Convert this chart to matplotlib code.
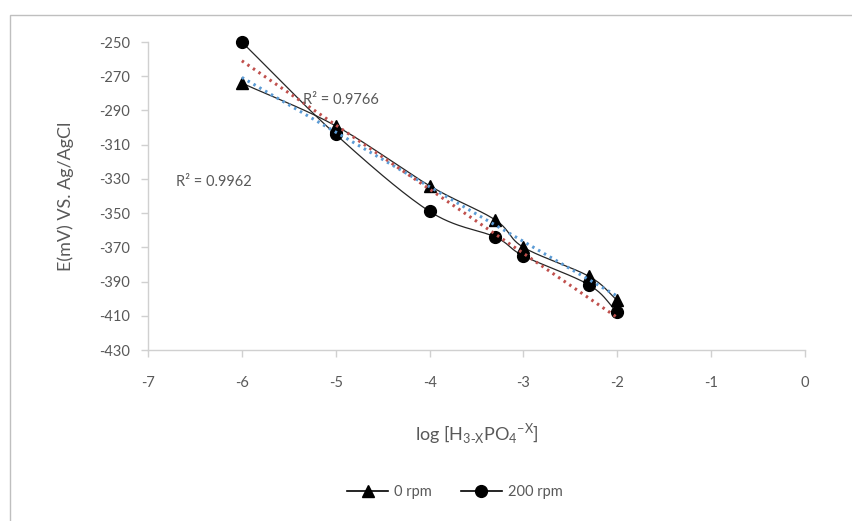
import numpy as np
import matplotlib
matplotlib.use("Agg")
import matplotlib.pyplot as plt
from matplotlib.patches import Rectangle

# log concentration of phosphate species
log_conc = [-6, -5, -4, -3.3, -3, -2.3, -2]
# potential (mV vs Ag/AgCl)
e_0rpm = [-274, -299, -334, -354, -370, -387, -401]
e_200rpm = [-250, -304, -349, -364, -375, -392, -408]

series_labels = ["0 rpm", "200 rpm"]
r2_labels = ["R² = 0.9766", "R² = 0.9962"]

x_ticks = [-7, -6, -5, -4, -3, -2, -1, 0]
y_ticks = [-250, -270, -290, -310, -330, -350, -370, -390, -410, -430]

plt.rcParams['font.family'] = ['Lato', 'DejaVu Sans']
text_color = '#595959'
axis_color = '#d0d0d0'

# on-screen scale of one data unit (used so the smoothing follows the drawn shape)
SX, SY = 657 / 7, 308 / 180


def smooth(x, y, n=30):
    """Catmull-Rom spline through the points, similar to a smoothed line."""
    pts = np.column_stack([np.asarray(x) * SX, np.asarray(y) * SY]).astype(float)
    p = np.vstack([pts[0] - (pts[1] - pts[0]), pts, pts[-1] + (pts[-1] - pts[-2])])
    out = []
    for i in range(1, len(p) - 2):
        p0, p1, p2, p3 = p[i - 1], p[i], p[i + 1], p[i + 2]
        t = np.linspace(0, 1, n)[:, None]
        seg = 0.5 * ((2 * p1) + (-p0 + p2) * t + (2 * p0 - 5 * p1 + 4 * p2 - p3) * t ** 2
                     + (-p0 + 3 * p1 - 3 * p2 + p3) * t ** 3)
        out.append(seg if i == 1 else seg[1:])
    out = np.vstack(out)
    return out[:, 0] / SX, out[:, 1] / SY


fig = plt.figure(figsize=(8.53, 5.21), dpi=100)

# chart area border
fig.patches.append(Rectangle((10 / 853, -0.05), 1.0, 1 - 15 / 521 + 0.05,
                             transform=fig.transFigure, fill=False,
                             edgecolor='#bfbfbf', linewidth=1.0))

ax = fig.add_axes([148 / 853, 1 - 350 / 521, (805 - 148) / 853, (350 - 42) / 521])

x = np.array(log_conc)
for yv, marker, ms in [(e_0rpm, '^', 8), (e_200rpm, 'o', 8.5)]:
    sx, sy = smooth(x, np.array(yv))
    ax.plot(sx, sy, color='#262626', linewidth=0.9, zorder=3)
    ax.plot(x, yv, linestyle='none', marker=marker, markersize=ms,
            color='black', zorder=4, clip_on=False)

# linear trend lines
for yv, col in [(e_0rpm, '#5b9bd5'), (e_200rpm, '#c0504d')]:
    m, b = np.polyfit(x, yv, 1)
    xx = np.array([x.min(), x.max()])
    ax.plot(xx, m * xx + b, color=col, linewidth=2.2,
            linestyle=(0, (0.8, 1.4)), zorder=5)

ax.text(-5.35, -286.5, r2_labels[0], fontsize=10.5, color=text_color, zorder=6)
ax.text(-6.7, -334, r2_labels[1], fontsize=10.5, color=text_color, zorder=6)

ax.set_xlim(-7, 0)
ax.set_ylim(-430, -250)
ax.set_xticks(x_ticks)
ax.set_yticks(y_ticks)
ax.set_xticklabels([str(t) for t in x_ticks])
ax.set_yticklabels([str(t) for t in y_ticks])

for s in ['top', 'right']:
    ax.spines[s].set_visible(False)
for s in ['left', 'bottom']:
    ax.spines[s].set_color(axis_color)
    ax.spines[s].set_linewidth(1.0)
ax.tick_params(axis='both', colors=axis_color, labelcolor=text_color,
               labelsize=10.5, length=5, width=1.0)
ax.tick_params(axis='x', pad=14)
ax.tick_params(axis='y', pad=8)

ax.set_xlabel(r'log [H$_{\mathregular{3\text{-}X}}$PO$_{\mathregular{4}}$$^{\mathregular{-X}}$]',
              fontsize=13, color=text_color, labelpad=22)
ax.set_ylabel('E(mV) VS. Ag/AgCl', fontsize=13, color=text_color, labelpad=18)

h1, = ax.plot([], [], color='black', marker='^', markersize=8, linewidth=1.2)
h2, = ax.plot([], [], color='black', marker='o', markersize=8.5, linewidth=1.2)
fig.legend([h1, h2], series_labels, loc='center', bbox_to_anchor=(455 / 853, 1 - 492 / 521),
           ncol=2, frameon=False, fontsize=10.5, labelcolor=text_color,
           handlelength=2.8, columnspacing=2.0, handletextpad=0.4)

fig.savefig('out.png', dpi=100)
